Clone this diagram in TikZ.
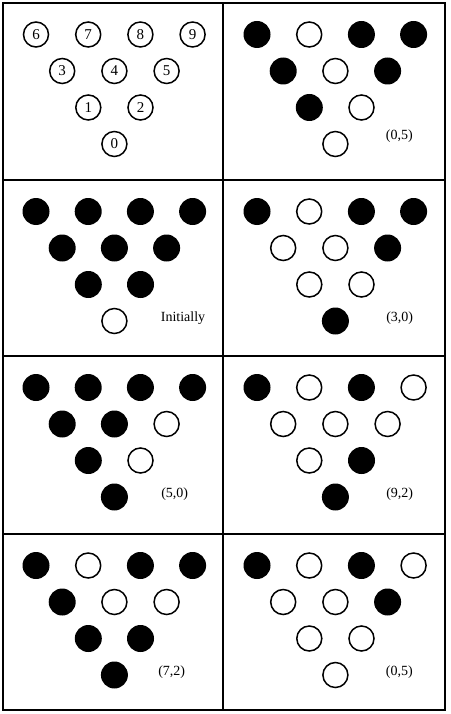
\documentclass[tikz,border=0pt]{standalone}
\usepackage{fontspec}
\setmainfont{Liberation Serif}
\usepackage{tikz}
\usetikzlibrary{positioning}

\tikzset{
  pinopen/.style={circle,draw,line width=1.5pt,minimum size=25pt,inner sep=0pt},
  pinfull/.style={circle,fill,minimum size=27pt,inner sep=0pt},
  pinstate0/.style={pinopen},
  pinstate1/.style={pinfull},
  pinnum/.style={pinopen,font=\fontsize{15}{15}\selectfont},
  racklabel/.style={inner sep=0pt,yshift=3pt,font=\fontsize{14}{14}\selectfont},
  box/.style={line width=1.8pt}
}

% pin number / x / y inside one panel
\newcommand{\pinspots}{0/111.4/141, 1/85.3/104.5, 2/137.5/104.5, 3/59.2/68, 4/111.4/68, 5/163.6/68, 6/33/31.5, 7/85.2/31.5, 8/137.4/31.5, 9/189.6/31.5}

% \rack{name}{x0}{y0}{state of pins 0..9}
\newcommand{\rack}[4]{%
  \foreach \k/\px/\py in \pinspots {
    \pgfmathtruncatemacro{\s}{{#4}[\k]}
    \node[pinstate\s] (#1-\k) at (#2+\px,#3+\py) {};
  }}

\begin{document}
\begin{tikzpicture}[x=1pt,y=-1pt]
\useasboundingbox (0,0) rectangle (450,714);

% frame
\draw[box] (3,3) rectangle (445,710);
\draw[box] (223,3) -- (223,710);
\foreach \h in {180,356,534}
  \draw[box] (3,\h) -- (445,\h);

% numbered pins
\foreach \k/\px/\py in \pinspots
  \node[pinnum] (a-\k) at (3+\px,3+\py) {\k};

\rack{b}{224}{3}{0,1,0,1,0,1,1,0,1,1}
\rack{c}{3}{180}{0,1,1,1,1,1,1,1,1,1}
\rack{d}{224}{180}{1,0,0,0,0,1,1,0,1,1}
\rack{e}{3}{356}{1,1,0,1,1,0,1,1,1,1}
\rack{f}{224}{356}{1,0,1,0,0,0,1,0,1,0}
\rack{g}{3}{534}{1,1,1,1,0,0,1,0,1,1}
\rack{h}{224}{534}{0,0,0,0,0,1,1,0,1,0}

\node[racklabel,right=37pt of b-0,yshift=5pt] {(0,5)};
\node[racklabel,right=33pt of c-0] {Initially};
\node[racklabel,right=37pt of d-0] {(3,0)};
\node[racklabel,right=33pt of e-0] {(5,0)};
\node[racklabel,right=37pt of f-0] {(9,2)};
\node[racklabel,right=30pt of g-0] {(7,2)};
\node[racklabel,right=37pt of h-0] {(0,5)};
\end{tikzpicture}
\end{document}
